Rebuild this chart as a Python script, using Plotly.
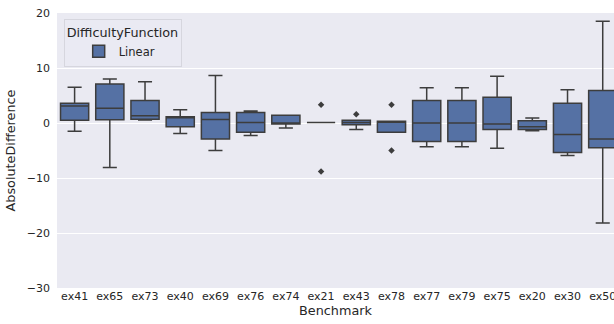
import plotly.graph_objects as go

benchmarks = ["ex41", "ex65", "ex73", "ex40", "ex69", "ex76", "ex74", "ex21",
              "ex43", "ex78", "ex77", "ex79", "ex75", "ex20", "ex30", "ex50"]
lower_fence = [-1.5, -8.1, 0.55, -1.9, -5.0, -2.25, -0.9, 0.1, -1.2, -1.7, -4.3, -4.3, -4.6, -1.4, -5.9, -18.2]
q1_vals     = [0.5, 0.6, 0.7, -0.7, -2.9, -1.7, -0.2, 0.1, -0.3, -1.7, -3.35, -3.35, -1.2, -1.2, -5.35, -4.5]
medians     = [3.1, 2.7, 1.3, 1.0, 0.65, 0.1, -0.15, 0.1, 0.1, 0.2, 0.0, 0.0, -0.2, -0.7, -2.1, -2.9]
q3_vals     = [3.6, 7.1, 4.1, 1.15, 1.9, 1.9, 1.4, 0.1, 0.5, 0.3, 4.1, 4.1, 4.7, 0.4, 3.6, 5.9]
upper_fence = [6.5, 8.0, 7.5, 2.4, 8.65, 2.2, 1.4, 0.1, 0.5, 0.3, 6.4, 6.4, 8.5, 0.9, 6.05, 18.5]

outlier_x = ["ex21", "ex21", "ex43", "ex78", "ex78"]
outlier_y = [3.3, -8.8, 1.6, 3.3, -5.0]

FILL = "#5571a4"
EDGE = "#3d3d3d"
FONT = "DejaVu Sans"

fig = go.Figure()
fig.add_trace(go.Box(
    x=benchmarks, q1=q1_vals, median=medians, q3=q3_vals,
    lowerfence=lower_fence, upperfence=upper_fence,
    name="Linear", fillcolor=FILL, line=dict(color=EDGE, width=1.5),
    whiskerwidth=0.5, width=0.8, boxpoints=False, showlegend=True,
))
fig.add_trace(go.Scatter(
    x=outlier_x, y=outlier_y, mode="markers",
    marker=dict(symbol="diamond", size=5, color=EDGE),
    showlegend=False, hoverinfo="y",
))

fig.update_layout(
    width=614, height=324,
    margin=dict(l=57, r=0, t=13, b=36, autoexpand=False),
    paper_bgcolor="white", plot_bgcolor="#EAEAF2",
    font=dict(family=FONT, size=11, color="#262626"),
    legend=dict(
        title=dict(text="DifficultyFunction", font=dict(size=12.8, color="#262626"), side="top"),
        font=dict(size=11.5), x=0.012, y=0.978, xanchor="left", yanchor="top",
        indentation=14,
        bgcolor="rgba(234,234,242,0.8)", bordercolor="#d6d6de", borderwidth=1,
    ),
    xaxis=dict(
        type="category", categoryorder="array", categoryarray=benchmarks,
        range=[-0.5, 15.32], showgrid=False, zeroline=False, ticks="",
        automargin=False,
        title=dict(text="Benchmark", font=dict(size=12.8), standoff=3),
        tickfont=dict(size=11),
    ),
    yaxis=dict(
        range=[-30, 20], dtick=10, tick0=0, showgrid=True, gridcolor="white",
        gridwidth=1, zeroline=False, ticks="", ticklabelstandoff=6,
        automargin=False,
        title=dict(text="AbsoluteDifference", font=dict(size=12.8), standoff=8),
        tickfont=dict(size=11),
    ),
)

fig.write_html("out.html", post_script="document.body.style.margin='0';",
               config={"displayModeBar": False})
